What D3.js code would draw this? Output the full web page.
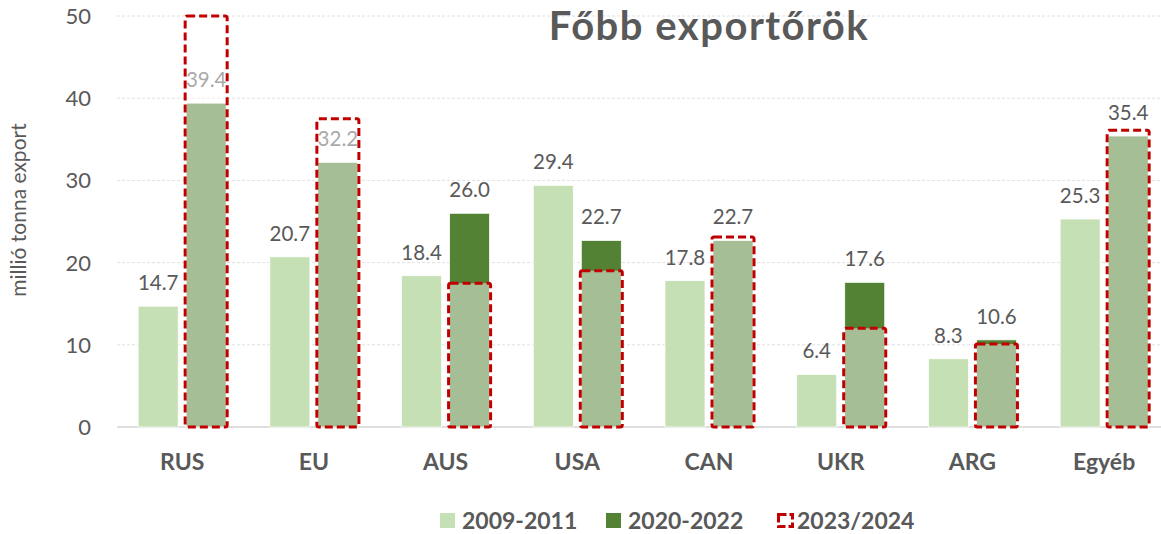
<!DOCTYPE html>
<html lang="hu">
<head>
    <meta charset="UTF-8">
    <title>Főbb exportőrök</title>
    <script src="https://d3js.org/d3.v7.min.js"></script>
    <style>
        body { margin: 0; background: #fff; }
        text { font-family: Lato, "Open Sans", sans-serif; fill: #595959; }
        .grid line { stroke: #e0e0e0; stroke-dasharray: 3,2; }
        .tick-label { font-size: 22px; }
        .cat-label { font-size: 23px; font-weight: bold; }
        .val-label { font-size: 20.5px; }
        .legend-text { font-size: 23px; font-weight: bold; }
    </style>
</head>
<body>
    <div id="chart"></div>
    <script>
        // adatok
        const categories = ["RUS", "EU", "AUS", "USA", "CAN", "UKR", "ARG", "Egyéb"];
        const values0911 = [14.7, 20.7, 18.4, 29.4, 17.8, 6.4, 8.3, 25.3];
        const values2022 = [39.4, 32.2, 26.0, 22.7, 22.7, 17.6, 10.6, 35.4];
        const values2324 = [50.0, 37.5, 17.5, 19.0, 23.1, 12.0, 10.1, 36.1];
        const yTicks = [0, 10, 20, 30, 40, 50];
        const seriesNames = ["2009-2011", "2020-2022", "2023/2024"];

        const width = 1161;
        const height = 534;
        const lightGreen = "#c5e0b4";
        const darkGreen = "#548235";
        const red = "#c00000";

        const svg = d3.select("#chart")
            .append("svg")
            .attr("width", width)
            .attr("height", height);

        const y = d3.scaleLinear().domain([0, 50]).range([427, 16]);
        const x = d3.scaleBand().domain(categories).range([116.3, 1170]);
        const xSub = d3.scaleBand().domain(["a", "b"]).range([0, x.bandwidth()])
            .paddingInner(1 / 6).paddingOuter(0.455);

        // gridlines
        svg.append("g")
            .attr("class", "grid")
            .selectAll("line")
            .data(yTicks.filter(d => d > 0))
            .join("line")
            .attr("x1", 117).attr("x2", width)
            .attr("y1", d => y(d)).attr("y2", d => y(d));

        svg.append("line")
            .attr("x1", 117).attr("x2", width)
            .attr("y1", y(0)).attr("y2", y(0))
            .attr("stroke", "#bfbfbf").attr("stroke-width", 1.2);

        // y axis labels
        svg.append("g")
            .selectAll("text")
            .data(yTicks)
            .join("text")
            .attr("class", "tick-label")
            .attr("x", 91)
            .attr("y", d => y(d) + 8)
            .attr("text-anchor", "end")
            .text(d => d);

        svg.append("text")
            .attr("transform", "translate(26, 210) rotate(-90)")
            .attr("text-anchor", "middle")
            .attr("font-size", "21px")
            .text("millió tonna export");

        // x axis labels
        svg.append("g")
            .selectAll("text")
            .data(categories)
            .join("text")
            .attr("class", "cat-label")
            .attr("x", d => x(d) + x.bandwidth() / 2)
            .attr("y", 470)
            .attr("text-anchor", "middle")
            .text(d => d);

        const groups = svg.append("g")
            .selectAll("g")
            .data(categories)
            .join("g")
            .attr("transform", d => `translate(${x(d)},0)`);

        groups.append("rect")
            .attr("x", xSub("a"))
            .attr("width", xSub.bandwidth())
            .attr("y", (d, i) => y(values0911[i]))
            .attr("height", (d, i) => y(0) - y(values0911[i]))
            .attr("fill", lightGreen)
            .attr("stroke", "#fff").attr("stroke-width", 0.75);

        groups.append("rect")
            .attr("x", xSub("b"))
            .attr("width", xSub.bandwidth())
            .attr("y", (d, i) => y(values2022[i]))
            .attr("height", (d, i) => y(0) - y(values2022[i]))
            .attr("fill", darkGreen)
            .attr("stroke", "#fff").attr("stroke-width", 0.75);

        groups.append("text")
            .attr("class", "val-label")
            .attr("x", xSub("a") + xSub.bandwidth() / 2)
            .attr("y", (d, i) => y(values0911[i]) - 16)
            .attr("text-anchor", "middle")
            .text((d, i) => values0911[i].toFixed(1));

        groups.append("text")
            .attr("class", "val-label")
            .attr("x", xSub("b") + xSub.bandwidth() / 2)
            .attr("y", (d, i) => y(values2022[i]) - 16)
            .attr("text-anchor", "middle")
            .text((d, i) => values2022[i].toFixed(1));

        // 2023/2024 - szaggatott keret
        groups.append("rect")
            .attr("x", xSub("b") - 1)
            .attr("width", xSub.bandwidth() + 2)
            .attr("y", (d, i) => y(values2324[i]))
            .attr("height", (d, i) => y(0) - y(values2324[i]))
            .attr("rx", 2)
            .attr("fill", "#fff").attr("fill-opacity", 0.48)
            .attr("stroke", red).attr("stroke-width", 3)
            .attr("stroke-dasharray", "8,4");

        // title
        svg.append("text")
            .attr("x", 709)
            .attr("y", 40)
            .attr("text-anchor", "middle")
            .attr("font-size", "40px")
            .attr("font-weight", "bold")
            .attr("letter-spacing", "1.5px")
            .text("Főbb exportőrök");

        // legend
        const legendX = [440, 606, 777];
        const legend = svg.append("g")
            .selectAll("g")
            .data(seriesNames)
            .join("g")
            .attr("transform", (d, i) => `translate(${legendX[i]},513)`);

        legend.append("rect")
            .attr("width", (d, i) => i === 2 ? 14 : 15)
            .attr("height", (d, i) => i === 2 ? 12 : 15)
            .attr("x", (d, i) => i === 2 ? 1.5 : 0)
            .attr("y", (d, i) => i === 2 ? 1.5 : 0)
            .attr("fill", (d, i) => i === 0 ? lightGreen : i === 1 ? darkGreen : "#fff")
            .attr("stroke", (d, i) => i === 2 ? red : "none")
            .attr("stroke-width", 3)
            .attr("stroke-dasharray", (d, i) => i === 2 ? "8,3" : null);

        legend.append("text")
            .attr("class", "legend-text")
            .attr("x", (d, i) => i === 2 ? 20 : 22)
            .attr("y", 15.5)
            .text(d => d);
    </script>
</body>
</html>
